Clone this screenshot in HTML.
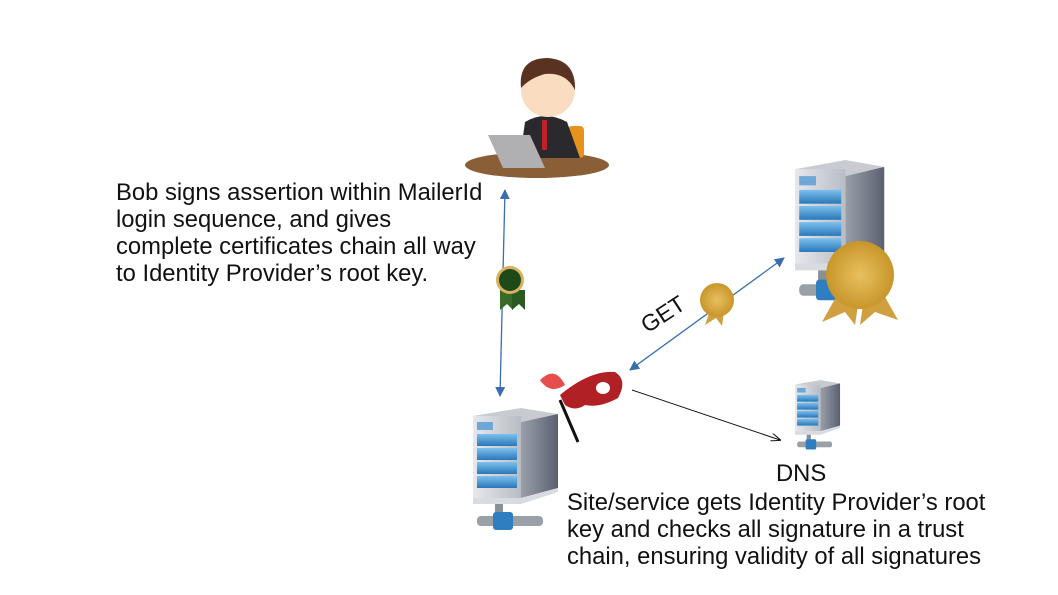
<!DOCTYPE html>
<html><head><style>
body{margin:0;width:1058px;height:595px;background:#fff;overflow:hidden;position:relative;font-family:"Liberation Sans",sans-serif;}
.t{position:absolute;font-size:23.8px;line-height:27px;color:#111;white-space:nowrap;}
</style></head><body>
<svg width="1058" height="595" style="position:absolute;left:0;top:0">
<defs>
<linearGradient id="fr" x1="0" x2="1"><stop offset="0" stop-color="#e6e8ec"/><stop offset="1" stop-color="#b8bcc4"/></linearGradient>
<linearGradient id="sd" x1="0" x2="1"><stop offset="0" stop-color="#9aa0aa"/><stop offset="1" stop-color="#5a6070"/></linearGradient>
<linearGradient id="bl" x1="0" x2="0" y1="0" y2="1"><stop offset="0" stop-color="#7cc0ee"/><stop offset="1" stop-color="#2a78b8"/></linearGradient>
<radialGradient id="gd"><stop offset="0" stop-color="#e8c060"/><stop offset="1" stop-color="#c8962a"/></radialGradient>
<g id="srv">
<polygon points="0,8 48,0 85,6 48,14" fill="#c8ccd2"/>
<polygon points="48,14 85,6 85,80 48,90" fill="url(#sd)"/>
<rect x="0" y="8" width="48" height="82" fill="url(#fr)"/>
<rect x="4" y="14" width="16" height="8" fill="#6fa8d8"/>
<rect x="4" y="26" width="40" height="12" fill="url(#bl)"/>
<rect x="4" y="40" width="40" height="12" fill="url(#bl)"/>
<rect x="4" y="54" width="40" height="12" fill="url(#bl)"/>
<rect x="4" y="68" width="40" height="12" fill="url(#bl)"/>
<polygon points="0,90 48,90 85,80 85,84 48,96 0,96" fill="#d8dbe0"/>
<rect x="22" y="96" width="8" height="14" fill="#8a9098"/>
<rect x="4" y="108" width="66" height="10" rx="4" fill="#9aa0a8"/>
<rect x="20" y="104" width="20" height="18" rx="3" fill="#2f7fc0"/>
</g>
<marker id="ab" markerWidth="10" markerHeight="10" refX="9" refY="5" orient="auto-start-reverse" markerUnits="userSpaceOnUse"><path d="M0,0 L10,5 L0,10 Z" fill="#3a6db0"/></marker>
<marker id="ak" markerWidth="10" markerHeight="8" refX="9" refY="4" orient="auto" markerUnits="userSpaceOnUse"><path d="M0,0 L10,4 L0,8" fill="none" stroke="#111"/></marker>
</defs>
<!-- person -->
<ellipse cx="537" cy="165" rx="72" ry="13" fill="#8a5e36"/>
<rect x="568" y="126" width="16" height="32" rx="4" fill="#e8921e"/>
<path d="M525 122 Q545 110 567 122 L580 158 L520 158 Z" fill="#2a2a2e"/>
<rect x="542" y="120" width="5" height="30" fill="#c0202a"/>
<circle cx="548" cy="90" r="27" fill="#fadcc0"/>
<path d="M521 88 Q518 58 548 58 Q576 60 575 90 Q566 72 545 74 Q530 78 521 88Z" fill="#5a3222"/>
<polygon points="488,135 530,135 545,168 503,168" fill="#b0b0b2"/>
<!-- arrows -->
<line x1="505" y1="190" x2="500" y2="396" stroke="#3a6db0" stroke-width="1.3" marker-start="url(#ab)" marker-end="url(#ab)"/>
<line x1="630" y1="370" x2="784" y2="258" stroke="#3a6db0" stroke-width="1.3" marker-start="url(#ab)" marker-end="url(#ab)"/>
<line x1="632" y1="390" x2="780" y2="440" stroke="#111" stroke-width="1" marker-end="url(#ak)"/>
<!-- servers -->
<use href="#srv" transform="translate(473,408)"/>
<use href="#srv" transform="translate(795,160) scale(1.05,1.15)"/>
<use href="#srv" transform="translate(795,380) scale(0.53,0.57)"/>
<!-- ribbons -->
<polygon points="500,290 500,310 507,304 513,310 513,290" fill="#3a6a2a"/>
<polygon points="512,290 512,310 519,304 525,310 525,290" fill="#2a5a22"/>
<circle cx="510" cy="280" r="14" fill="#d8b060"/><circle cx="510" cy="280" r="11" fill="#1e4a1a"/>
<polygon points="712,305 705,325 716,318 722,326 725,305" fill="#d0a040"/>
<circle cx="717" cy="300" r="17" fill="url(#gd)"/>
<polygon points="840,290 822,322 845,312 855,325 860,292" fill="#d0a040"/>
<polygon points="865,290 860,325 875,312 898,320 880,288" fill="#d0a040"/>
<circle cx="860" cy="275" r="34" fill="url(#gd)"/>
<!-- mask -->
<path d="M560 395 Q590 370 615 372 Q628 380 618 398 Q600 408 585 405 Q575 412 565 405Z" fill="#b02024"/>
<ellipse cx="603" cy="388" rx="7" ry="6" fill="#fff"/>
<line x1="560" y1="400" x2="578" y2="442" stroke="#111" stroke-width="3"/>
<path d="M540 380 Q555 365 565 385 Q550 395 540 380Z" fill="#e02020" opacity="0.8"/>
</svg>
<div class="t" style="left:116px;top:179px">Bob signs assertion within MailerId<br>login sequence, and gives<br>complete certificates chain all way<br>to Identity Provider’s root key.</div>
<div class="t" style="left:636px;top:316px;transform:rotate(-33deg);transform-origin:left top;font-size:23px">GET</div>
<div class="t" style="left:776px;top:460px">DNS</div>
<div class="t" style="left:567px;top:489px">Site/service gets Identity Provider’s root<br>key and checks all signature in a trust<br>chain, ensuring validity of all signatures</div>
</body></html>
